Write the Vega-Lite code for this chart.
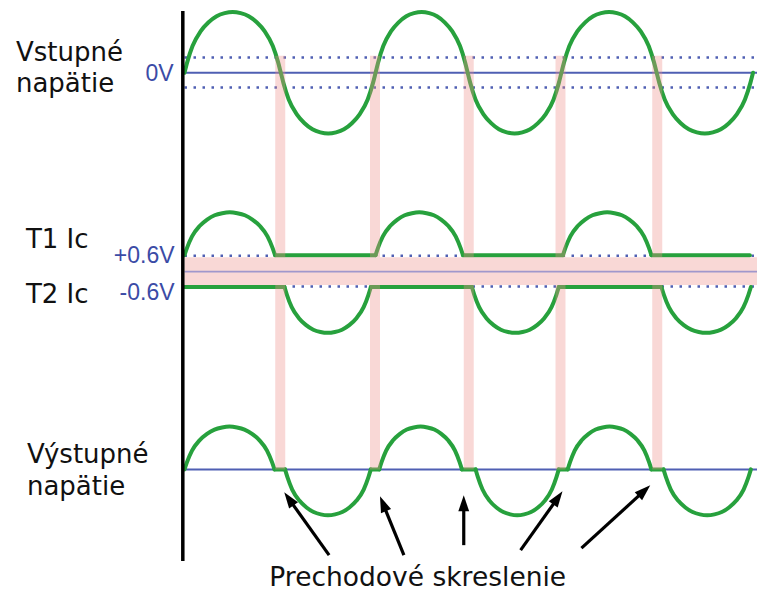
{
  "$schema": "https://vega.github.io/schema/vega-lite/v6.json",
  "width": 759,
  "height": 592,
  "padding": 0,
  "autosize": {"type": "fit", "contains": "padding"},
  "background": "white",
  "config": {"view": {"stroke": null}},
  "datasets": {
    "wave": [
      {"g":"in","x":0,"y":73},{"g":"in","x":5.08,"y":62.6},{"g":"in","x":15.25,"y":46.2},{"g":"in","x":30.5,"y":31.5},{"g":"in","x":45.75,"y":22.4},{"g":"in","x":61,"y":16.3},{"g":"in","x":76.25,"y":13.2},{"g":"in","x":91.5,"y":12},{"g":"in","x":106.75,"y":13.2},{"g":"in","x":122,"y":16.3},{"g":"in","x":137.25,"y":22.4},{"g":"in","x":152.5,"y":31.5},{"g":"in","x":167.75,"y":46.2},{"g":"in","x":177.92,"y":62.6},{"g":"in","x":183,"y":73},
      {"g":"in","x":188,"y":83.4},{"g":"in","x":198,"y":99.8},{"g":"in","x":213,"y":114.5},{"g":"in","x":228,"y":123.6},{"g":"in","x":243,"y":129.7},{"g":"in","x":258,"y":132.8},{"g":"in","x":273,"y":134},{"g":"in","x":288,"y":132.8},{"g":"in","x":303,"y":129.7},{"g":"in","x":318,"y":123.6},{"g":"in","x":333,"y":114.5},{"g":"in","x":348,"y":99.8},{"g":"in","x":358,"y":83.4},{"g":"in","x":363,"y":73},
      {"g":"in","x":367.86,"y":62.6},{"g":"in","x":377.58,"y":46.2},{"g":"in","x":392.17,"y":31.5},{"g":"in","x":406.75,"y":22.4},{"g":"in","x":421.33,"y":16.3},{"g":"in","x":435.92,"y":13.2},{"g":"in","x":450.5,"y":12},{"g":"in","x":465.08,"y":13.2},{"g":"in","x":479.67,"y":16.3},{"g":"in","x":494.25,"y":22.4},{"g":"in","x":508.83,"y":31.5},{"g":"in","x":523.42,"y":46.2},{"g":"in","x":533.14,"y":62.6},{"g":"in","x":538,"y":73},
      {"g":"in","x":542.94,"y":83.4},{"g":"in","x":552.83,"y":99.8},{"g":"in","x":567.67,"y":114.5},{"g":"in","x":582.5,"y":123.6},{"g":"in","x":597.33,"y":129.7},{"g":"in","x":612.17,"y":132.8},{"g":"in","x":627,"y":134},{"g":"in","x":641.83,"y":132.8},{"g":"in","x":656.67,"y":129.7},{"g":"in","x":671.5,"y":123.6},{"g":"in","x":686.33,"y":114.5},{"g":"in","x":701.17,"y":99.8},{"g":"in","x":711.06,"y":83.4},{"g":"in","x":716,"y":73},
      {"g":"in","x":721.03,"y":62.6},{"g":"in","x":731.08,"y":46.2},{"g":"in","x":746.17,"y":31.5},{"g":"in","x":761.25,"y":22.4},{"g":"in","x":776.33,"y":16.3},{"g":"in","x":791.42,"y":13.2},{"g":"in","x":806.5,"y":12},{"g":"in","x":821.58,"y":13.2},{"g":"in","x":836.67,"y":16.3},{"g":"in","x":851.75,"y":22.4},{"g":"in","x":866.83,"y":31.5},{"g":"in","x":881.92,"y":46.2},{"g":"in","x":891.97,"y":62.6},{"g":"in","x":897,"y":73},
      {"g":"in","x":902.08,"y":83.4},{"g":"in","x":912.25,"y":99.8},{"g":"in","x":927.5,"y":114.5},{"g":"in","x":942.75,"y":123.6},{"g":"in","x":958,"y":129.7},{"g":"in","x":973.25,"y":132.8},{"g":"in","x":988.5,"y":134},{"g":"in","x":1003.75,"y":132.8},{"g":"in","x":1019,"y":129.7},{"g":"in","x":1034.25,"y":123.6},{"g":"in","x":1049.5,"y":114.5},{"g":"in","x":1064.75,"y":99.8},{"g":"in","x":1074.92,"y":83.4},{"g":"in","x":1080,"y":73},

      {"g":"t1a","x":0,"y":256},{"g":"t1a","x":4.78,"y":248.7},{"g":"t1a","x":14.33,"y":237.1},{"g":"t1a","x":28.67,"y":226.8},{"g":"t1a","x":43,"y":220.3},{"g":"t1a","x":57.33,"y":216},{"g":"t1a","x":71.67,"y":213.9},{"g":"t1a","x":86,"y":213},{"g":"t1a","x":100.33,"y":213.9},{"g":"t1a","x":114.67,"y":216},{"g":"t1a","x":129,"y":220.3},{"g":"t1a","x":143.33,"y":226.8},{"g":"t1a","x":157.67,"y":237.1},{"g":"t1a","x":167.22,"y":248.7},{"g":"t1a","x":172,"y":256},
      {"g":"t1b","x":172,"y":256},{"g":"t1b","x":363,"y":256},
      {"g":"t1c","x":363,"y":256},{"g":"t1c","x":367.61,"y":248.7},{"g":"t1c","x":376.83,"y":237.1},{"g":"t1c","x":390.67,"y":226.8},{"g":"t1c","x":404.5,"y":220.3},{"g":"t1c","x":418.33,"y":216},{"g":"t1c","x":432.17,"y":213.9},{"g":"t1c","x":446,"y":213},{"g":"t1c","x":459.83,"y":213.9},{"g":"t1c","x":473.67,"y":216},{"g":"t1c","x":487.5,"y":220.3},{"g":"t1c","x":501.33,"y":226.8},{"g":"t1c","x":515.17,"y":237.1},{"g":"t1c","x":524.39,"y":248.7},{"g":"t1c","x":529,"y":256},
      {"g":"t1d","x":529,"y":256},{"g":"t1d","x":719,"y":256},
      {"g":"t1e","x":719,"y":256},{"g":"t1e","x":723.67,"y":248.7},{"g":"t1e","x":733,"y":237.1},{"g":"t1e","x":747,"y":226.8},{"g":"t1e","x":761,"y":220.3},{"g":"t1e","x":775,"y":216},{"g":"t1e","x":789,"y":213.9},{"g":"t1e","x":803,"y":213},{"g":"t1e","x":817,"y":213.9},{"g":"t1e","x":831,"y":216},{"g":"t1e","x":845,"y":220.3},{"g":"t1e","x":859,"y":226.8},{"g":"t1e","x":873,"y":237.1},{"g":"t1e","x":882.33,"y":248.7},{"g":"t1e","x":887,"y":256},
      {"g":"t1f","x":887,"y":256},{"g":"t1f","x":1074,"y":256},

      {"g":"t2a","x":0,"y":288},{"g":"t2a","x":190,"y":288},
      {"g":"t2b","x":190,"y":288},{"g":"t2b","x":194.56,"y":295.8},{"g":"t2b","x":203.67,"y":308.2},{"g":"t2b","x":217.33,"y":319.3},{"g":"t2b","x":231,"y":326.2},{"g":"t2b","x":244.67,"y":330.8},{"g":"t2b","x":258.33,"y":333.1},{"g":"t2b","x":272,"y":334},{"g":"t2b","x":285.67,"y":333.1},{"g":"t2b","x":299.33,"y":330.8},{"g":"t2b","x":313,"y":326.2},{"g":"t2b","x":326.67,"y":319.3},{"g":"t2b","x":340.33,"y":308.2},{"g":"t2b","x":349.44,"y":295.8},{"g":"t2b","x":354,"y":288},
      {"g":"t2c","x":354,"y":288},{"g":"t2c","x":546,"y":288},
      {"g":"t2d","x":546,"y":288},{"g":"t2d","x":550.58,"y":295.8},{"g":"t2d","x":559.75,"y":308.2},{"g":"t2d","x":573.5,"y":319.3},{"g":"t2d","x":587.25,"y":326.2},{"g":"t2d","x":601,"y":330.8},{"g":"t2d","x":614.75,"y":333.1},{"g":"t2d","x":628.5,"y":334},{"g":"t2d","x":642.25,"y":333.1},{"g":"t2d","x":656,"y":330.8},{"g":"t2d","x":669.75,"y":326.2},{"g":"t2d","x":683.5,"y":319.3},{"g":"t2d","x":697.25,"y":308.2},{"g":"t2d","x":706.42,"y":295.8},{"g":"t2d","x":711,"y":288},
      {"g":"t2e","x":711,"y":288},{"g":"t2e","x":906,"y":288},
      {"g":"t2f","x":906,"y":288},{"g":"t2f","x":910.72,"y":295.8},{"g":"t2f","x":920.17,"y":308.2},{"g":"t2f","x":934.33,"y":319.3},{"g":"t2f","x":948.5,"y":326.2},{"g":"t2f","x":962.67,"y":330.8},{"g":"t2f","x":976.83,"y":333.1},{"g":"t2f","x":991,"y":334},{"g":"t2f","x":1005.17,"y":333.1},{"g":"t2f","x":1019.33,"y":330.8},{"g":"t2f","x":1033.5,"y":326.2},{"g":"t2f","x":1047.67,"y":319.3},{"g":"t2f","x":1061.83,"y":308.2},{"g":"t2f","x":1071.28,"y":295.8},{"g":"t2f","x":1076,"y":288},

      {"g":"o1","x":0,"y":471},{"g":"o1","x":4.75,"y":463.7},{"g":"o1","x":14.25,"y":452.1},{"g":"o1","x":28.5,"y":441.8},{"g":"o1","x":42.75,"y":435.3},{"g":"o1","x":57,"y":431},{"g":"o1","x":71.25,"y":428.9},{"g":"o1","x":85.5,"y":428},{"g":"o1","x":99.75,"y":428.9},{"g":"o1","x":114,"y":431},{"g":"o1","x":128.25,"y":435.3},{"g":"o1","x":142.5,"y":441.8},{"g":"o1","x":156.75,"y":452.1},{"g":"o1","x":166.25,"y":463.7},{"g":"o1","x":171,"y":471},
      {"g":"o2","x":171,"y":471},{"g":"o2","x":191,"y":471},
      {"g":"o3","x":191,"y":471},{"g":"o3","x":195.53,"y":478.8},{"g":"o3","x":204.58,"y":491.2},{"g":"o3","x":218.17,"y":502.3},{"g":"o3","x":231.75,"y":509.2},{"g":"o3","x":245.33,"y":513.8},{"g":"o3","x":258.92,"y":516.1},{"g":"o3","x":272.5,"y":517},{"g":"o3","x":286.08,"y":516.1},{"g":"o3","x":299.67,"y":513.8},{"g":"o3","x":313.25,"y":509.2},{"g":"o3","x":326.83,"y":502.3},{"g":"o3","x":340.42,"y":491.2},{"g":"o3","x":349.47,"y":478.8},{"g":"o3","x":354,"y":471},
      {"g":"o4","x":354,"y":471},{"g":"o4","x":370,"y":471},
      {"g":"o5","x":370,"y":471},{"g":"o5","x":374.36,"y":463.7},{"g":"o5","x":383.08,"y":452.1},{"g":"o5","x":396.17,"y":441.8},{"g":"o5","x":409.25,"y":435.3},{"g":"o5","x":422.33,"y":431},{"g":"o5","x":435.42,"y":428.9},{"g":"o5","x":448.5,"y":428},{"g":"o5","x":461.58,"y":428.9},{"g":"o5","x":474.67,"y":431},{"g":"o5","x":487.75,"y":435.3},{"g":"o5","x":500.83,"y":441.8},{"g":"o5","x":513.92,"y":452.1},{"g":"o5","x":522.64,"y":463.7},{"g":"o5","x":527,"y":471},
      {"g":"o6","x":527,"y":471},{"g":"o6","x":553,"y":471},
      {"g":"o7","x":553,"y":471},{"g":"o7","x":557.39,"y":478.8},{"g":"o7","x":566.17,"y":491.2},{"g":"o7","x":579.33,"y":502.3},{"g":"o7","x":592.5,"y":509.2},{"g":"o7","x":605.67,"y":513.8},{"g":"o7","x":618.83,"y":516.1},{"g":"o7","x":632,"y":517},{"g":"o7","x":645.17,"y":516.1},{"g":"o7","x":658.33,"y":513.8},{"g":"o7","x":671.5,"y":509.2},{"g":"o7","x":684.67,"y":502.3},{"g":"o7","x":697.83,"y":491.2},{"g":"o7","x":706.61,"y":478.8},{"g":"o7","x":711,"y":471},
      {"g":"o8","x":711,"y":471},{"g":"o8","x":728,"y":471},
      {"g":"o9","x":728,"y":471},{"g":"o9","x":732.42,"y":463.7},{"g":"o9","x":741.25,"y":452.1},{"g":"o9","x":754.5,"y":441.8},{"g":"o9","x":767.75,"y":435.3},{"g":"o9","x":781,"y":431},{"g":"o9","x":794.25,"y":428.9},{"g":"o9","x":807.5,"y":428},{"g":"o9","x":820.75,"y":428.9},{"g":"o9","x":834,"y":431},{"g":"o9","x":847.25,"y":435.3},{"g":"o9","x":860.5,"y":441.8},{"g":"o9","x":873.75,"y":452.1},{"g":"o9","x":882.58,"y":463.7},{"g":"o9","x":887,"y":471},
      {"g":"o10","x":887,"y":471},{"g":"o10","x":910,"y":471},
      {"g":"o11","x":910,"y":471},{"g":"o11","x":914.61,"y":478.8},{"g":"o11","x":923.83,"y":491.2},{"g":"o11","x":937.67,"y":502.3},{"g":"o11","x":951.5,"y":509.2},{"g":"o11","x":965.33,"y":513.8},{"g":"o11","x":979.17,"y":516.1},{"g":"o11","x":993,"y":517},{"g":"o11","x":1006.83,"y":516.1},{"g":"o11","x":1020.67,"y":513.8},{"g":"o11","x":1034.5,"y":509.2},{"g":"o11","x":1048.33,"y":502.3},{"g":"o11","x":1062.17,"y":491.2},{"g":"o11","x":1071.39,"y":478.8},{"g":"o11","x":1076,"y":471}
    ],
    "hlines": [
      {"k":"zero","x":0,"x2":1087.6,"y":73},
      {"k":"dot","x":0,"x2":1087.6,"y":57.7},
      {"k":"dot","x":0,"x2":1087.6,"y":87.7},
      {"k":"dot","x":0,"x2":1087.6,"y":256.7},
      {"k":"dot","x":0,"x2":1087.6,"y":287.5},
      {"k":"mid","x":0,"x2":1087.6,"y":272.5},
      {"k":"zero","x":0,"x2":1087.6,"y":471}
    ],
    "bands": [
      {"x":172.4,"x2":191.4,"y":56,"y2":258},{"x":172.4,"x2":191.4,"y":286,"y2":471},
      {"x":352.4,"x2":371.4,"y":56,"y2":258},{"x":352.4,"x2":371.4,"y":286,"y2":471},
      {"x":530.5,"x2":549.5,"y":56,"y2":258},{"x":530.5,"x2":549.5,"y":286,"y2":471},
      {"x":704.8,"x2":723.8,"y":56,"y2":258},{"x":704.8,"x2":723.8,"y":286,"y2":471},
      {"x":888.6,"x2":907.6,"y":56,"y2":258},{"x":888.6,"x2":907.6,"y":286,"y2":471},
      {"x":0,"x2":1087.6,"y":258,"y2":286}
    ],
    "axisline": [{"x":-3.2,"y":11,"y2":563}],
    "arrows": [
      {"x":274.7,"y":557,"x2":202.7,"y2":503.8,"hx":189.5,"hy":494,"ang":-35.5},
      {"x":416.8,"y":557,"x2":379.9,"y2":509.1,"hx":371.4,"hy":498,"ang":-22.1},
      {"x":530.5,"y":547,"x2":530.5,"y2":509,"hx":530.5,"hy":497,"ang":0},
      {"x":638.5,"y":552,"x2":704.8,"y2":502.8,"hx":718.1,"hy":493,"ang":35.4},
      {"x":754.1,"y":550,"x2":868,"y2":495.1,"hx":884.8,"hy":487,"ang":47.6}
    ],
    "labels": [
      {"x":-320.2,"y":61,"text":"Vstupné"},
      {"x":-320.2,"y":92,"text":"napätie"},
      {"x":-301.3,"y":249,"text":"T1 Ic"},
      {"x":-301.3,"y":304,"text":"T2 Ic"},
      {"x":-299.4,"y":465,"text":"Výstupné"},
      {"x":-299.4,"y":497,"text":"napätie"}
    ],
    "caption": [
      {"x":161.1,"y":588,"text":"Prechodové skreslenie"}
    ],
    "vlabels": [
      {"x":-20.8,"y":81.5,"text":"0V"},
      {"x":-18.9,"y":264,"text":"+0.6V"},
      {"x":-18.9,"y":301,"text":"-0.6V"}
    ]
  },
  "encoding": {
    "x": {"field":"x","type":"quantitative","axis":null,"scale":{"domain":[-350.5,1087.6],"nice":false,"zero":false}},
    "y": {"field":"y","type":"quantitative","axis":null,"scale":{"domain":[0,592],"reverse":true,"nice":false,"zero":false}}
  },
  "layer": [
    {
      "data": {"name":"hlines"},
      "transform": [{"filter":"datum.k == 'dot'"}],
      "mark": {"type":"rule","color":"#4f5fb3","strokeWidth":2.5,"strokeDash":[2.5,6.5]},
      "encoding": {"x2":{"field":"x2"}}
    },
    {
      "data": {"name":"hlines"},
      "transform": [{"filter":"datum.k == 'zero'"}],
      "mark": {"type":"rule","color":"#4f5fb3","strokeWidth":2},
      "encoding": {"x2":{"field":"x2"}}
    },
    {
      "data": {"name":"wave"},
      "mark": {"type":"line","color":"#27a13d","strokeWidth":4,"interpolate":"monotone","strokeCap":"round","strokeJoin":"round"},
      "encoding": {"detail":{"field":"g"}}
    },
    {
      "data": {"name":"bands"},
      "mark": {"type":"rect","color":"#ee908a","opacity":0.35},
      "encoding": {"x2":{"field":"x2"},"y2":{"field":"y2"}}
    },
    {
      "data": {"name":"hlines"},
      "transform": [{"filter":"datum.k == 'mid'"}],
      "mark": {"type":"rule","color":"#a097cc","strokeWidth":1.6},
      "encoding": {"x2":{"field":"x2"}}
    },
    {
      "data": {"name":"axisline"},
      "mark": {"type":"rule","color":"#000000","strokeWidth":3.5},
      "encoding": {"y2":{"field":"y2"}}
    },
    {
      "data": {"name":"arrows"},
      "mark": {"type":"rule","color":"#000000","strokeWidth":3.2},
      "encoding": {"x2":{"field":"x2"},"y2":{"field":"y2"}}
    },
    {
      "data": {"name":"arrows"},
      "mark": {"type":"point","shape":"M0,0L0.34,1L-0.34,1Z","filled":true,"color":"#000000","opacity":1,"size":1024,"strokeWidth":0},
      "encoding": {
        "x": {"field":"hx","type":"quantitative","axis":null,"scale":{"domain":[-350.5,1087.6],"nice":false,"zero":false}},
        "y": {"field":"hy","type":"quantitative","axis":null,"scale":{"domain":[0,592],"reverse":true,"nice":false,"zero":false}},
        "angle": {"field":"ang","type":"quantitative","scale":null}
      }
    },
    {
      "data": {"name":"labels"},
      "mark": {"type":"text","align":"left","baseline":"alphabetic","font":"DejaVu Sans","fontSize":26,"color":"#111111"},
      "encoding": {"text":{"field":"text"}}
    },
    {
      "data": {"name":"caption"},
      "mark": {"type":"text","align":"left","baseline":"alphabetic","font":"DejaVu Sans","fontSize":26.5,"color":"#111111"},
      "encoding": {"text":{"field":"text"}}
    },
    {
      "data": {"name":"vlabels"},
      "mark": {"type":"text","align":"right","baseline":"alphabetic","font":"Liberation Sans","fontSize":23,"color":"#3b4ba6"},
      "encoding": {"text":{"field":"text"}}
    }
  ]
}
